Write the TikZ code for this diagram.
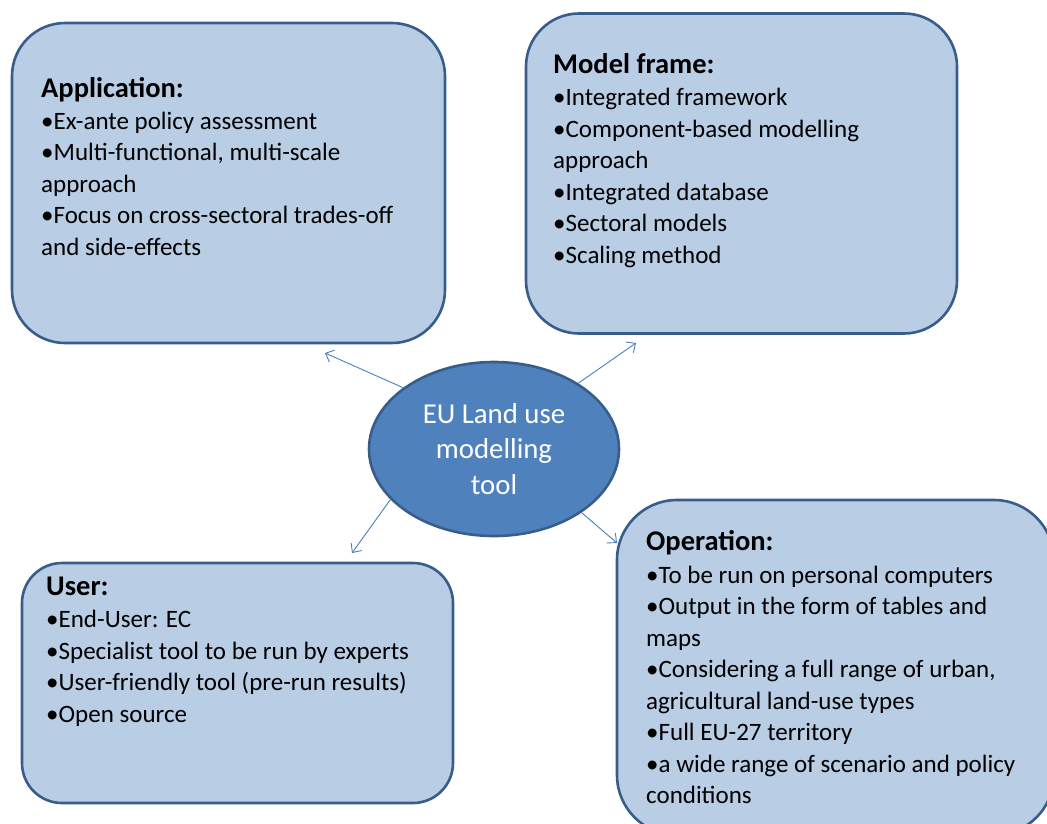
\documentclass[tikz,border=0pt]{standalone}
\usepackage{fontspec}
\setmainfont{Carlito}
\usetikzlibrary{arrows.meta,shapes.geometric}
\definecolor{boxfill}{HTML}{B9CDE5}
\definecolor{boxline}{HTML}{385D8A}
\definecolor{ellfill}{HTML}{4F81BD}
\definecolor{arrline}{HTML}{4A7EBB}
\newcommand{\ttl}[1]{{\rule{0pt}{24pt}\fontsize{28.5}{31.5}\selectfont\bfseries #1}}
\begin{document}
\begin{tikzpicture}[x=1pt,y=-1pt,
  infobox/.style={draw=boxline, fill=boxfill, line width=2.6pt, rectangle, rounded corners=53pt, inner sep=0pt},
  boxtext/.style={anchor=north west, align=left, inner sep=0pt, font=\fontsize{25}{31.5}\selectfont},
  link/.style={draw=arrline, line width=0.9pt, -{Straight Barb[length=7pt,width=13pt]}}
]
\useasboundingbox (0,0) rectangle (1047,823);
\clip (0,0) rectangle (1047,823);

% boxes
\node[infobox, minimum width=433pt, minimum height=320pt] (app) at (228.5,183) {};
\node[infobox, minimum width=431pt, minimum height=320pt] (model) at (741.5,173.5) {};
\node[infobox, rounded corners=40pt, minimum width=431pt, minimum height=240pt] (user) at (237.5,683) {};
\node[infobox, rounded corners=60pt, minimum width=437pt, minimum height=335pt] (oper) at (835.5,667.5) {};

% texts (top = title baseline - 24)
\node[boxtext] (apptext) at (41,73) {\ttl{Application:}\\[0.5pt]
•Ex-ante policy assessment\\
•Multi-functional, multi-scale\\
approach\\
•Focus on cross-sectoral trades-off\\
and side-effects};

\node[boxtext] (modeltext) at (553,49) {\ttl{Model frame:}\\[1pt]
•Integrated framework\\
•Component-based modelling\\
approach\\
•Integrated database\\
•Sectoral models\\
•Scaling method};

\node[boxtext] (usertext) at (46,571) {\ttl{User:}\\[1pt]
•End-User: EC\\
•Specialist tool to be run by experts\\
•User-friendly tool (pre-run results)\\
•Open source};

\node[boxtext] (opertext) at (646,526) {\ttl{Operation:}\\[1.5pt]
•To be run on personal computers\\
•Output in the form of tables and\\
maps\\
•Considering a full range of urban,\\
agricultural land-use types\\
•Full EU-27 territory\\
•a wide range of scenario and policy\\
conditions};

% central ellipse
\node[ellipse, draw=boxline, fill=ellfill, line width=2.6pt, minimum width=250pt, minimum height=174pt,
      inner sep=0pt, align=center, text=white, font=\fontsize{28.8}{35.5}\selectfont] (core) at (494,449)
  {EU Land use\\modelling\\tool};

% arrow ends
\coordinate (eapp) at (325,353);
\coordinate (emodel) at (636,343);
\coordinate (euser) at (352,553);
\coordinate (eoper) at (617,543);

\draw[link] (core.146) -- (eapp);
\draw[link] (core.38) -- (emodel);
\draw[link] (core.206) -- (euser);
\draw[link] (core.324) -- (eoper);
\end{tikzpicture}
\end{document}
